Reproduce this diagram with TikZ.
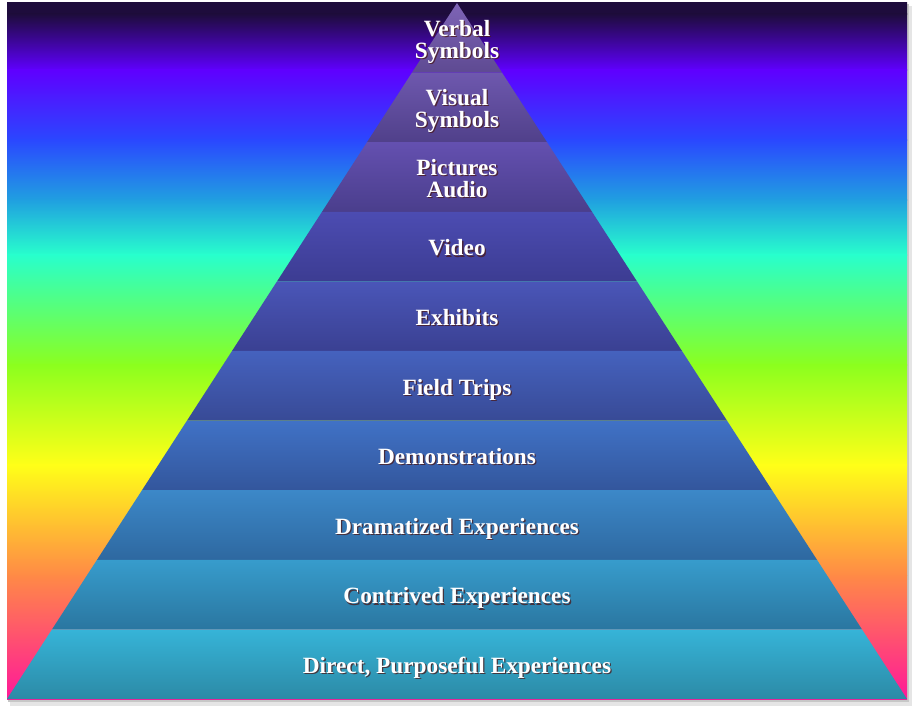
\documentclass[tikz,border=0pt]{standalone}
\usepackage{fontspec}
\setmainfont{Liberation Serif}
\usetikzlibrary{calc}

% background rainbow
\definecolor{bgA}{HTML}{1E0C3C}
\definecolor{bgB}{HTML}{5F00FF}
\definecolor{bgC}{HTML}{2A48FF}
\definecolor{bgD}{HTML}{20A0E0}
\definecolor{bgE}{HTML}{28FFCC}
\definecolor{bgF}{HTML}{8CFF1E}
\definecolor{bgG}{HTML}{FFFF18}
\definecolor{bgH}{HTML}{FF8A46}
\definecolor{bgI}{HTML}{FF1899}
% pyramid levels (top / bottom)
\definecolor{lvOt}{HTML}{7E64B6}\definecolor{lvOb}{HTML}{5E4A92}
\definecolor{lvTt}{HTML}{6E58AE}\definecolor{lvTb}{HTML}{50408A}
\definecolor{lvHt}{HTML}{6450B0}\definecolor{lvHb}{HTML}{4A3E8C}
\definecolor{lvFt}{HTML}{4C4CB2}\definecolor{lvFb}{HTML}{3C3C92}
\definecolor{lvVt}{HTML}{4A56B8}\definecolor{lvVb}{HTML}{3A4092}
\definecolor{lvXt}{HTML}{4562BE}\definecolor{lvXb}{HTML}{384A96}
\definecolor{lvSt}{HTML}{4072C6}\definecolor{lvSb}{HTML}{33569C}
\definecolor{lvEt}{HTML}{3C88C8}\definecolor{lvEb}{HTML}{2E68A0}
\definecolor{lvNt}{HTML}{379CCC}\definecolor{lvNb}{HTML}{2A76A0}
\definecolor{lvDt}{HTML}{36B4D8}\definecolor{lvDb}{HTML}{2C8AA6}
\definecolor{shadowred}{HTML}{4A1818}

\begin{document}
\begin{tikzpicture}[
    x=1pt, y=-1pt,
    level/.style={
      align=center, inner sep=0pt, text=white,
      font=\bfseries\fontsize{23.3}{22}\selectfont,
      execute at begin node=\strut, execute at end node=\strut
    },
    levelshadow/.style={level, text=shadowred, opacity=.75},
  ]
    \useasboundingbox (0,0) rectangle (914,711);

    % frame shadow
    \fill[black!10] (10,6) rectangle (912,706);
    \fill[black!22] (8,4) rectangle (909,702);

    % rainbow background
    \foreach \ya/\ca/\yb/\cb in {3/bgA/14/bgA, 14/bgA/70/bgB, 70/bgB/140/bgC,
        140/bgC/200/bgD, 200/bgD/255/bgE, 255/bgE/365/bgF, 365/bgF/465/bgG,
        465/bgG/575/bgH, 575/bgH/699/bgI}
      \shade[top color=\ca, bottom color=\cb] (7,\ya) rectangle (907,\yb+0.5);

    % pyramid levels
    \foreach \k/\ct/\cb/\txt in {
        1/lvOt/lvOb/{Verbal\\Symbols},
        2/lvTt/lvTb/{Visual\\Symbols},
        3/lvHt/lvHb/{Pictures\\Audio},
        4/lvFt/lvFb/{Video},
        5/lvVt/lvVb/{Exhibits},
        6/lvXt/lvXb/{Field Trips},
        7/lvSt/lvSb/{Demonstrations},
        8/lvEt/lvEb/{Dramatized Experiences},
        9/lvNt/lvNb/{Contrived Experiences},
        10/lvDt/lvDb/{Direct, Purposeful Experiences}} {
      \pgfmathsetmacro\ya{3+69.6*(\k-1)}
      \pgfmathsetmacro\yb{3+69.6*\k}
      \pgfmathsetmacro\wa{45*(\k-1)}
      \pgfmathsetmacro\wb{45*\k}
      \shade[top color=\ct, bottom color=\cb]
        (457-\wa,\ya) -- (457+\wa,\ya) -- (457+\wb,\yb) -- (457-\wb,\yb) -- cycle;
      \node[levelshadow] (shadow\k) at (458.3,\ya+40.6) {\txt};
      \node[level] (level\k) at (457,\ya+39.3) {\txt};
    }
\end{tikzpicture}
\end{document}
